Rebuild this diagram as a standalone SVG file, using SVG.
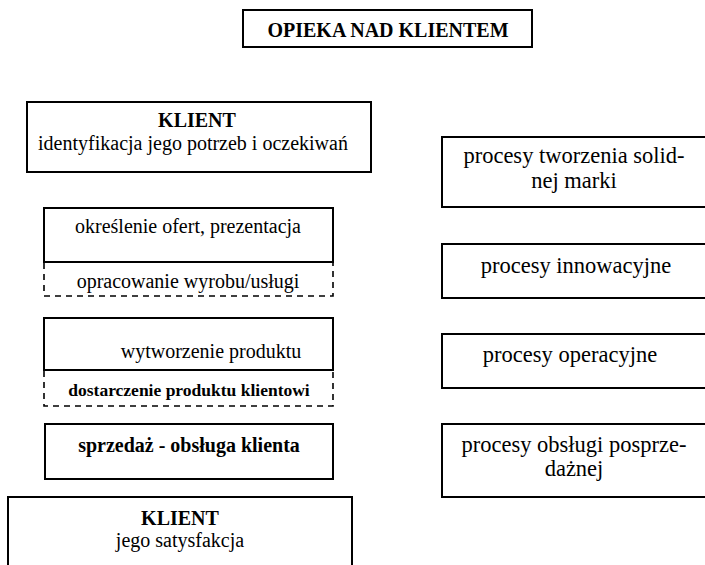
<svg xmlns="http://www.w3.org/2000/svg" width="705" height="565" viewBox="0 0 705 565">
<style>
.b{fill:#fff;stroke:#000;stroke-width:2}
.d{fill:none;stroke:#000;stroke-width:1.6;stroke-dasharray:6 5}
text{font-family:"Liberation Serif","Times New Roman",serif;fill:#000;text-anchor:middle}
.r{font-size:20px}
.p{font-size:22.5px}
.bd{font-weight:bold}
</style>
<rect width="705" height="565" fill="#fff"/>
<g id="title">
<rect class="b" x="243" y="10" width="289" height="37"/>
<text class="bd" x="388" y="37" font-size="20">OPIEKA NAD KLIENTEM</text>
</g>
<g id="klient1">
<rect class="b" x="27" y="102" width="344" height="70"/>
<text class="bd r" x="197" y="127">KLIENT</text>
<text class="r" x="193" y="150" font-size="19.6">identyfikacja jego potrzeb i oczekiwań</text>
</g>
<g id="oferty">
<rect class="b" x="44" y="208" width="289" height="54"/>
<text class="r" x="188" y="233">określenie ofert, prezentacja</text>
</g>
<g id="opracowanie">
<path class="d" d="M44 263 V296 H333 V263"/>
<text class="r" x="188" y="288">opracowanie wyrobu/usługi</text>
</g>
<g id="wytworzenie">
<rect class="b" x="44" y="318" width="289" height="52"/>
<text class="r" x="211" y="358">wytworzenie produktu</text>
</g>
<g id="dostarczenie">
<path class="d" d="M44 371 V406 H333 V371"/>
<text class="bd" x="189" y="396" font-size="17.5">dostarczenie produktu klientowi</text>
</g>
<g id="sprzedaz">
<rect class="b" x="45" y="424" width="288" height="55"/>
<text class="bd r" x="189" y="452">sprzedaż - obsługa klienta</text>
</g>
<g id="klient2">
<rect class="b" x="8" y="497" width="344" height="80"/>
<text class="bd r" x="180" y="525">KLIENT</text>
<text class="r" x="180" y="547" font-size="18.5">jego satysfakcja</text>
</g>
<g id="marka">
<rect class="b" x="442" y="137" width="270" height="70"/>
<text class="p" x="574" y="163">procesy tworzenia solid-</text>
<text class="p" x="574" y="188">nej marki</text>
</g>
<g id="innowacyjne">
<rect class="b" x="442" y="244" width="270" height="54"/>
<text class="p" x="576" y="273">procesy innowacyjne</text>
</g>
<g id="operacyjne">
<rect class="b" x="442" y="334" width="270" height="54"/>
<text class="p" x="570" y="362">procesy operacyjne</text>
</g>
<g id="posprzedazne">
<rect class="b" x="442" y="424" width="270" height="73"/>
<text class="p" x="574" y="452">procesy obsługi posprze-</text>
<text class="p" x="574" y="476">dażnej</text>
</g>
<g id="connectors"></g>
</svg>
